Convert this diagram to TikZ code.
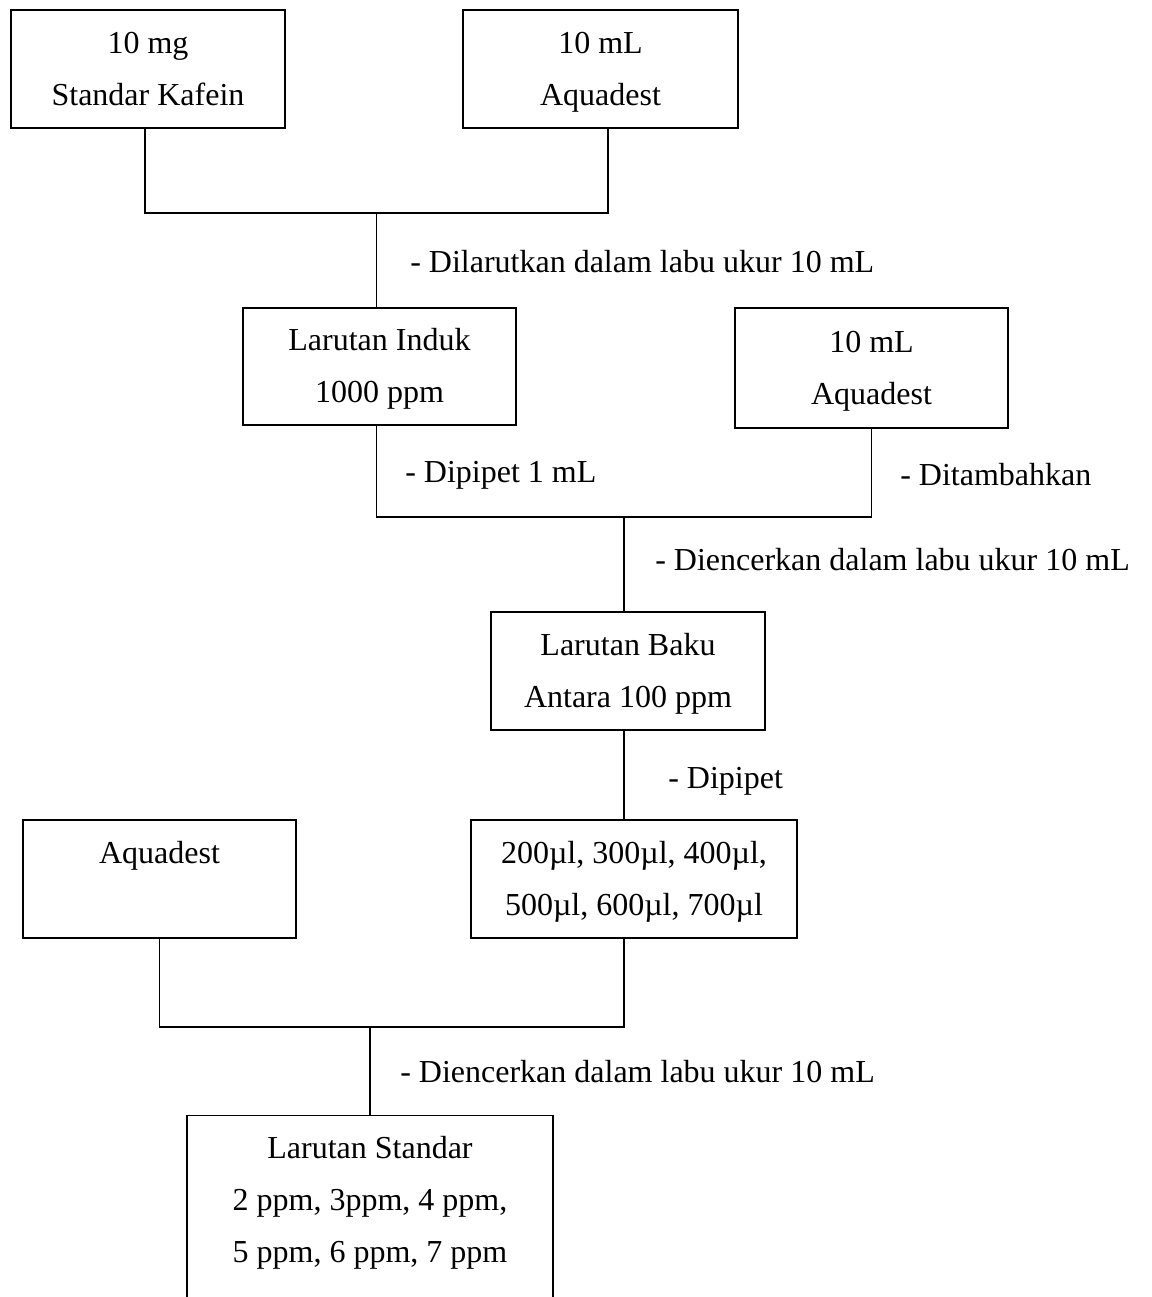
\documentclass[tikz,border=0pt]{standalone}
\usepackage{fontspec}
\setmainfont{Liberation Serif}
% every text line counts as cap height with no depth, so all boxes centre alike
\newcommand\evenln[1]{\smash{#1}\vphantom{X}}
\begin{document}
\begin{tikzpicture}[x=0.75pt,y=-0.75pt,
  every node/.style={font=\fontsize{24}{39}\selectfont},
  box/.style={draw,line width=1pt,rectangle,align=center,inner sep=0pt},
  note/.style={anchor=base west,inner sep=0pt},
  link/.style={line width=1pt}]
\useasboundingbox (0,0) rectangle (1152,1297);
\clip (0,0) rectangle (1152,1297);

% starting materials
\node[box,minimum width=205.5pt,minimum height=88.5pt] (A) at (148,69) {\evenln{10 mg}\\\evenln{Standar Kafein}};
\node[box,minimum width=206.25pt,minimum height=88.5pt] (B) at (600.5,69) {\evenln{10 mL}\\\evenln{Aquadest}};

% stock solution and diluent
\node[box,minimum width=204.75pt,minimum height=87.75pt] (C) at (379.5,366.5) {\evenln{Larutan Induk}\\\evenln{1000 ppm}};
\node[box,minimum width=204.75pt,minimum height=90pt] (D) at (871.5,368) {\evenln{10 mL}\\\evenln{Aquadest}};

% intermediate standard
\node[box,minimum width=205.5pt,minimum height=88.5pt] (E) at (628,671) {\evenln{Larutan Baku}\\\evenln{Antara 100 ppm}};

% aliquots and diluent
\node[box,minimum width=204.75pt,minimum height=88.5pt] (F) at (159.5,879) {\evenln{Aquadest}\\\evenln{}};
\node[box,minimum width=244.5pt,minimum height=88.5pt] (G) at (634,879) {\evenln{200µl, 300µl, 400µl,}\\\evenln{500µl, 600µl, 700µl}};

% final standard series (open at the bottom of the page)
\node[box,minimum width=274.5pt,minimum height=168pt,anchor=north] (H) at (370,1115)
  {};
\node[anchor=north,align=center,inner sep=0pt] (Ht) at (370,1137)
  {\evenln{Larutan Standar}\\\evenln{2 ppm, 3ppm, 4 ppm,}\\\evenln{5 ppm, 6 ppm, 7 ppm}};

% junction points
\coordinate (y1) at (0,213);
\coordinate (y2) at (0,517);
\coordinate (y3) at (0,1027);
\coordinate (j1) at ([xshift=-2.5pt]C.north |- y1);
\coordinate (j2) at (624,517);
\coordinate (g1) at ([xshift=-7.5pt]G.south);
\coordinate (j3) at (H.north |- y3);

% connectors
\draw[link] ([xshift=-2.25pt]A.south) |- (j1) -| ([xshift=5.5pt]B.south);
\draw[link] (j1) -- (j1 |- C.north);
\draw[link] ([xshift=-2.5pt]C.south) |- (j2) -| (D.south);
\draw[link] (j2) -- (j2 |- E.north);
\draw[link] ([xshift=-3pt]E.south) -- ([xshift=-3pt]E.south |- G.north);
\draw[link] (F.south) |- (j3) -| (g1);
\draw[link] (j3) -- (H.north);

% step annotations
\node[note] (n1) at (410,272) {- Dilarutkan dalam labu ukur 10 mL};
\node[note] (n2) at (405,482) {- Dipipet 1 mL};
\node[note] (n3) at (900,485) {- Ditambahkan};
\node[note] (n4) at (655,570) {- Diencerkan dalam labu ukur 10 mL};
\node[note] (n5) at (668,788) {- Dipipet};
\node[note] (n6) at (400,1082) {- Diencerkan dalam labu ukur 10 mL};
\end{tikzpicture}
\end{document}
